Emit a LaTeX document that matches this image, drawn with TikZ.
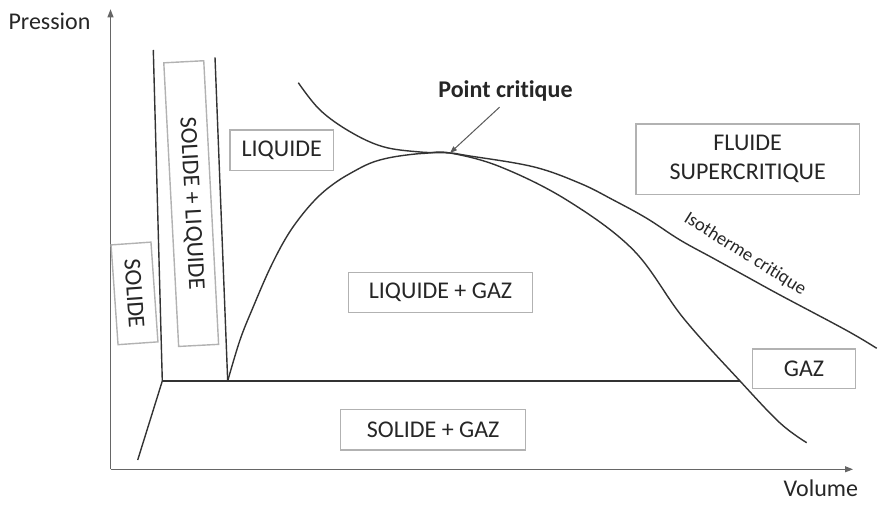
\documentclass[tikz,border=0pt]{standalone}
\usepackage{fontspec}
\setmainfont[Ligatures=NoCommon]{Carlito}
\usetikzlibrary{arrows.meta,positioning}

\begin{document}
\begin{tikzpicture}[x=0.5pt,y=0.5pt,
    every node/.style={font=\fontsize{12}{14.5}\selectfont,text=black!85},
    phase/.style={draw=gray!60,line width=0.7pt,inner sep=0pt},
    courbe/.style={line width=0.7pt,black!80},
    axe/.style={line width=0.5pt,gray!80!black,-{Triangle[length=4pt,width=3pt]}}]
  \useasboundingbox (0,0) rectangle (884,508);
  % axes
  \coordinate (O) at (110.5,38.7);
  \coordinate (P) at (110.5,498.7);
  \coordinate (V) at (853,38.7);
  \draw[axe] (O) -- (P);
  \draw[axe] (O) -- (V);
  \node (pression) at (49.5,487) {Pression};
  \node (volume)   at (820.8,19.7) {Volume};
  % points
  \coordinate (t1) at (162.3,127);
  \coordinate (t2) at (227.7,127);
  \coordinate (t3) at (740,127);
  \coordinate (cp) at (450,355);
  \coordinate (f1) at (153.3,458);
  \coordinate (f2) at (215,450.7);
  \coordinate (s1) at (137.7,48);
  % lignes
  \draw[courbe] (f1) -- (t1);
  \draw[courbe] (f2) -- (t2);
  \draw[courbe] (t1) -- (t3);
  \draw[courbe] (t1) -- (s1);
  % courbe de saturation
  \draw[courbe] plot[smooth,tension=0.6] coordinates {(t2) (240,168) (253.3,201.3)
    (270,239.7) (286.7,271.3) (303.3,294.7) (320,313) (336.7,326.3) (353.3,336.3)
    (370,344.7) (386.7,349.7) (406.7,353) (426.7,354.8) (cp)
    (500,341.3) (566.7,308) (633.3,258) (683.3,190) (t3) (780,85) (806.7,65.3)};
  % isotherme critique
  \draw[courbe] plot[smooth,tension=0.6] coordinates {(298.3,425.3) (320,398)
    (350,376.3) (383,361.3) (420,356) (cp) (466.7,352.5) (533,341.3) (580,324.7)
    (613.3,308) (646.7,289.7) (680,268) (713.3,249.7) (746.7,231.3) (780,213)
    (846.7,177.5) (876.7,159.7)};
  % zones
  \node[phase,minimum width=51.7pt,minimum height=20.3pt] (liq) at (281.7,357.7) {LIQUIDE};
  \node[phase,minimum width=92.2pt,minimum height=20pt] (liqgaz) at (440.5,215.3) {LIQUIDE + GAZ};
  \node[phase,minimum width=92.5pt,minimum height=20.3pt] (solgaz) at (433.2,78.3) {SOLIDE + GAZ};
  \node[phase,minimum width=51.3pt,minimum height=19.7pt] (gaz) at (804,139.3) {GAZ};
  \node[phase,align=center,minimum width=111.7pt,minimum height=35.2pt] (fluide) at (747.7,348.8) {FLUIDE\\SUPERCRITIQUE};
  \node[phase,rotate=-86,minimum width=50pt,minimum height=20pt] (sol) at (134.5,214.6) {SOLIDE};
  \node[phase,rotate=-87,minimum width=142pt,minimum height=20pt] (solliq) at (191.2,304.4) {SOLIDE + LIQUIDE};
  \node[rotate=-32,inner sep=0pt,font=\fontsize{9.3}{11}\selectfont] (iso) at (745,254) {Isotherme critique};
  % point critique
  \node[font=\fontsize{12}{14.5}\selectfont\bfseries,inner sep=0pt] (pc) at (505.5,417) {Point critique};
  \draw[line width=0.5pt,gray!70!black,-{Triangle[length=3.5pt,width=2.5pt]},shorten <=4pt] (pc.south) -- (cp);
\end{tikzpicture}
\end{document}
